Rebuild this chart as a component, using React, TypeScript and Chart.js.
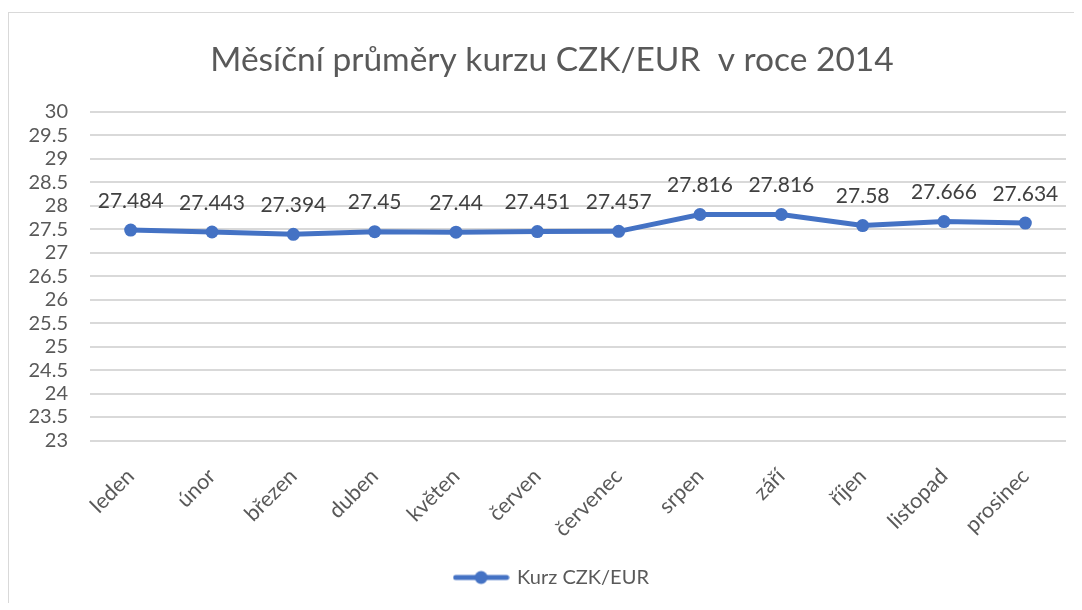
import React, { useEffect, useRef } from 'react';
import { Chart, registerables } from 'chart.js';

Chart.register(...registerables);

const chartTitle = 'Měsíční průměry kurzu CZK/EUR  v roce 2014';
const seriesName = 'Kurz CZK/EUR';
const months = ['leden', 'únor', 'březen', 'duben', 'květen', 'červen', 'červenec', 'srpen', 'září', 'říjen', 'listopad', 'prosinec'];
const rates = [27.484, 27.443, 27.394, 27.45, 27.44, 27.451, 27.457, 27.816, 27.816, 27.58, 27.666, 27.634];
const yMin = 23;
const yMax = 30;
const yStep = 0.5;

const BLUE = '#4472C4';
const TEXT = '#595959';
const FONT = 'Lato, "Open Sans", sans-serif';

function makeLegendMarker(): HTMLCanvasElement {
  const c = document.createElement('canvas');
  c.width = 57;
  c.height = 16;
  const ctx = c.getContext('2d')!;
  ctx.strokeStyle = BLUE;
  ctx.lineWidth = 5;
  ctx.lineCap = 'round';
  ctx.beginPath();
  ctx.moveTo(3, 8);
  ctx.lineTo(54, 8);
  ctx.stroke();
  ctx.fillStyle = BLUE;
  ctx.beginPath();
  ctx.arc(28.5, 8, 6.5, 0, Math.PI * 2);
  ctx.fill();
  return c;
}

const dataLabelPlugin = {
  id: 'dataLabels',
  afterDatasetsDraw(chart: any) {
    const ctx = chart.ctx;
    const meta = chart.getDatasetMeta(0);
    const values = chart.data.datasets[0].data as number[];
    ctx.save();
    ctx.font = `21px ${FONT}`;
    ctx.fillStyle = '#404040';
    ctx.textAlign = 'center';
    ctx.textBaseline = 'middle';
    meta.data.forEach((el: any, i: number) => {
      ctx.fillText(String(values[i]), el.x, el.y - 29);
    });
    ctx.restore();
  },
};

export default function App() {
  const ref = useRef<HTMLCanvasElement | null>(null);

  useEffect(() => {
    if (!ref.current) return;
    const marker = makeLegendMarker();
    const chart = new Chart(ref.current, {
      type: 'line',
      data: {
        labels: months,
        datasets: [
          {
            label: seriesName,
            data: rates,
            borderColor: BLUE,
            backgroundColor: BLUE,
            borderWidth: 5,
            pointRadius: 6.5,
            pointHoverRadius: 6.5,
            pointBackgroundColor: BLUE,
            pointBorderWidth: 0,
            tension: 0,
            yAxisID: 'y',
          },
        ],
      },
      options: {
        responsive: false,
        animation: false,
        devicePixelRatio: 1,
        layout: { padding: { left: 13, right: 0, top: 0, bottom: 8.5 } },
        plugins: {
          title: {
            display: true,
            text: chartTitle,
            color: TEXT,
            font: { family: FONT, size: 33.5, weight: 'normal' },
            padding: { top: 26.9, bottom: 31.9 },
          },
          legend: {
            display: true,
            position: 'bottom',
            labels: {
              color: TEXT,
              font: { family: FONT, size: 20 },
              usePointStyle: true,
              pointStyleWidth: 52,
              padding: 9.5,
              generateLabels: () => [
                {
                  text: seriesName,
                  fillStyle: BLUE,
                  strokeStyle: BLUE,
                  fontColor: TEXT,
                  lineWidth: 0,
                  pointStyle: marker,
                  hidden: false,
                  datasetIndex: 0,
                },
              ],
            },
          },
          tooltip: { enabled: false },
        },
        scales: {
          x: {
            offset: true,
            grid: { display: false, drawTicks: false },
            border: { display: false },
            ticks: {
              color: TEXT,
              font: { family: FONT, size: 21.5 },
              minRotation: 45,
              maxRotation: 45,
              padding: 23,
              autoSkip: false,
            },
            afterFit: (s: any) => {
              s.height = 117.5;
            },
          },
          y: {
            min: yMin,
            max: yMax,
            grid: { color: '#d9d9d9', lineWidth: 2, drawTicks: false },
            border: { display: false },
            ticks: {
              stepSize: yStep,
              autoSkip: false,
              color: TEXT,
              font: { family: FONT, size: 20 },
              padding: 22,
              callback: (v: any) => String(v),
            },
            afterFit: (s: any) => {
              s.width = 68;
            },
          },
          yRightSpace: {
            type: 'linear',
            position: 'right',
            display: true,
            grid: { display: false, drawTicks: false },
            border: { display: false },
            ticks: { display: false },
            afterFit: (s: any) => {
              s.width = 16;
            },
          },
        },
      },
      plugins: [dataLabelPlugin],
    });
    return () => chart.destroy();
  }, []);

  return (
    <div
      style={{
        position: 'relative',
        top: 4,
        width: 1073,
        height: 594,
        borderTop: '1px solid #d9d9d9',
        borderLeft: '1px solid #d9d9d9',
      }}
    >
      <canvas ref={ref} width={1073} height={593} style={{ display: 'block' }} />
    </div>
  );
}
